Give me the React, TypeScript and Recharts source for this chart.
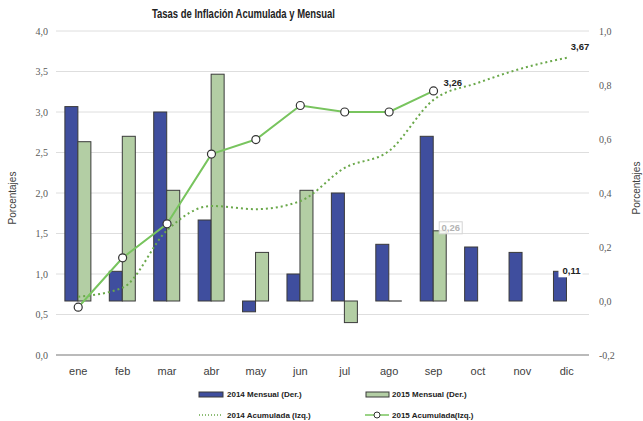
import { ComposedChart, Bar, Line, XAxis, YAxis, CartesianGrid, LabelList } from 'recharts'

const months = ['ene', 'feb', 'mar', 'abr', 'may', 'jun', 'jul', 'ago', 'sep', 'oct', 'nov', 'dic']
const mensual2014 = [0.72, 0.11, 0.70, 0.30, -0.04, 0.10, 0.40, 0.21, 0.61, 0.20, 0.18, 0.11]
const mensual2015 = [0.59, 0.61, 0.41, 0.84, 0.18, 0.41, -0.08, 0.00, 0.26, null, null, null]
const acumulada2014 = [0.72, 0.83, 1.54, 1.84, 1.80, 1.90, 2.31, 2.52, 3.15, 3.36, 3.54, 3.67]
const acumulada2015 = [0.59, 1.20, 1.62, 2.48, 2.66, 3.08, 3.00, 3.00, 3.26, null, null, null]

const leftTicks = [0, 0.5, 1, 1.5, 2, 2.5, 3, 3.5, 4]
const rightTicks = [-0.2, 0, 0.2, 0.4, 0.6, 0.8, 1]

const data = months.map((m, i) => ({
  mes: m,
  m14: mensual2014[i],
  m15: mensual2015[i],
  a14: acumulada2014[i],
  a15: acumulada2015[i]
}))

const BLUE = '#3F4E9E'
const GREEN_BAR = '#B3CEA4'
const LINE_2015 = '#78C45E'
const LINE_2014 = '#6AA84A'
const OUTLINE = '#3a3a3a'
const SANS = '"Liberation Sans", Arial, sans-serif'
const SERIF = '"Liberation Serif", "Times New Roman", serif'

const fmt = (v: number) => v.toFixed(2).replace('.', ',')
const fmtTick = (v: number) => v.toFixed(1).replace('.', ',')

// barra con valor 0 -> solo una raya en la base
function BarShape(props: any) {
  const { x, y, width, height, fill } = props
  if (x == null || width == null) return null
  if (!height || Math.abs(height) < 0.5) {
    return <line x1={x} x2={x + width} y1={y} y2={y} stroke={OUTLINE} strokeWidth={1.2} />
  }
  const top = height < 0 ? y + height : y
  return <rect x={x} y={top} width={width} height={Math.abs(height)} fill={fill} stroke={OUTLINE} strokeWidth={1} />
}

function Dot2015(props: any) {
  const { cx, cy, index } = props
  if (cx == null || cy == null) return <g key={index} />
  return <circle key={index} cx={cx} cy={cy} r={4} fill="#fff" stroke="#333" strokeWidth={1.2} />
}

export default function App() {
  return (
    <div style={{ position: 'absolute', left: 0, top: 0, width: 643, height: 421, background: '#fff' }}>
      <svg width={643} height={24} style={{ position: 'absolute', left: 0, top: 0 }}>
        <text x={152} y={18} textLength={183} lengthAdjust="spacingAndGlyphs"
          fontFamily={SANS} fontWeight="bold" fontSize={12} fill="#222">
          Tasas de Inflación Acumulada y Mensual
        </text>
      </svg>

      <ComposedChart
        width={643}
        height={421}
        data={data}
        margin={{ top: 31, right: 4, bottom: 36, left: 6 }}
        barCategoryGap="20%"
        barGap={0}
        style={{ position: 'absolute', left: 0, top: 0 }}
      >
        <CartesianGrid yAxisId="izq" vertical={false} stroke="#dedede" strokeWidth={1} />
        <XAxis
          dataKey="mes"
          height={30}
          tickLine={false}
          tickSize={6}
          tickMargin={6}
          axisLine={{ stroke: '#a8a8a8', strokeWidth: 1.5 }}
          tick={{ fontFamily: SANS, fontSize: 11, fill: '#404040' }}
          interval={0}
        />
        <YAxis
          yAxisId="izq"
          orientation="left"
          width={50}
          domain={[0, 4]}
          ticks={leftTicks}
          allowDataOverflow
          tickFormatter={fmtTick}
          axisLine={false}
          tickLine={false}
          tickSize={6}
          tickMargin={2}
          tick={{ fontFamily: SERIF, fontSize: 10, fill: '#595959' }}
          label={() => (
            <text x={12} y={198} transform="rotate(-90 12 198)" textAnchor="middle" dominantBaseline="central"
              fontFamily={SANS} fontSize={10} fill="#404040">Porcentajes</text>
          )}
        />
        <YAxis
          yAxisId="der"
          orientation="right"
          width={50}
          domain={[-0.2, 1]}
          ticks={rightTicks}
          allowDataOverflow
          tickFormatter={fmtTick}
          axisLine={false}
          tickLine={false}
          tickSize={6}
          tickMargin={4}
          tick={{ fontFamily: SERIF, fontSize: 10, fill: '#595959' }}
          label={() => (
            <text x={636} y={188} transform="rotate(-90 636 188)" textAnchor="middle" dominantBaseline="central"
              fontFamily={SANS} fontSize={10} fill="#404040">Porcentajes</text>
          )}
        />

        <Bar yAxisId="der" dataKey="m14" name="2014 Mensual (Der.)" fill={BLUE} shape={BarShape} isAnimationActive={false}>
          <LabelList
            dataKey="m14"
            content={(p: any) => {
              if (p.index !== 11) return null
              const x = p.x + p.width - 4
              const y = p.y + 3
              return (
                <g>
                  <rect x={x - 4} y={y - 10} width={24} height={13} fill="#fff" />
                  <text x={x} y={y} fontFamily={SANS} fontWeight="bold" fontSize={9.5} fill="#222">{fmt(p.value)}</text>
                </g>
              )
            }}
          />
        </Bar>
        <Bar yAxisId="der" dataKey="m15" name="2015 Mensual (Der.)" fill={GREEN_BAR} shape={BarShape} isAnimationActive={false}>
          <LabelList
            dataKey="m15"
            content={(p: any) => {
              if (p.index !== 8) return null
              const x = p.x + 6
              const y = p.y - 9
              return (
                <g>
                  <rect x={x} y={y} width={23} height={12} fill="#fff" fillOpacity={0.85} stroke="#d4d4d4" strokeWidth={1} />
                  <text x={x + 11.5} y={y + 9.5} textAnchor="middle" fontFamily={SANS} fontWeight="bold" fontSize={9.5} fill="#b3b3b3">{fmt(p.value)}</text>
                </g>
              )
            }}
          />
        </Bar>

        <Line
          yAxisId="izq"
          type="monotone"
          dataKey="a14"
          name="2014 Acumulada (Izq.)"
          stroke={LINE_2014}
          strokeWidth={2}
          strokeDasharray="2 3"
          dot={false}
          isAnimationActive={false}
        >
          <LabelList
            dataKey="a14"
            content={(p: any) => {
              if (p.index !== 11) return null
              return (
                <text x={p.x + 4} y={p.y - 8} fontFamily={SANS} fontWeight="bold" fontSize={9.5} fill="#222">{fmt(p.value)}</text>
              )
            }}
          />
        </Line>
        <Line
          yAxisId="izq"
          type="linear"
          dataKey="a15"
          name="2015 Acumulada(Izq.)"
          stroke={LINE_2015}
          strokeWidth={2}
          dot={Dot2015}
          activeDot={false}
          isAnimationActive={false}
        >
          <LabelList
            dataKey="a15"
            content={(p: any) => {
              if (p.index !== 8) return null
              return (
                <text x={p.x + 10} y={p.y - 5} fontFamily={SANS} fontWeight="bold" fontSize={9.5} fill="#222">{fmt(p.value)}</text>
              )
            }}
          />
        </Line>
      </ComposedChart>

      <svg width={643} height={40} style={{ position: 'absolute', left: 0, top: 384 }}>
        <g fontFamily={SANS} fontWeight="bold" fontSize={8} fill="#222">
          <rect x={199} y={8} width={24} height={5} fill={BLUE} stroke={OUTLINE} strokeWidth={1} />
          <text x={227} y={13}>2014 Mensual (Der.)</text>
          <rect x={366} y={8} width={23} height={5} fill={GREEN_BAR} stroke={OUTLINE} strokeWidth={1} />
          <text x={392} y={13}>2015 Mensual (Der.)</text>
          <line x1={199} x2={223} y1={31} y2={31} stroke={LINE_2014} strokeWidth={1.5} strokeDasharray="1 2" />
          <text x={227} y={34}>2014 Acumulada (Izq.)</text>
          <line x1={365} x2={389} y1={31} y2={31} stroke={LINE_2015} strokeWidth={1.5} />
          <circle cx={377} cy={31} r={3} fill="#fff" stroke="#333" strokeWidth={1} />
          <text x={392} y={34}>2015 Acumulada(Izq.)</text>
        </g>
      </svg>
    </div>
  )
}
